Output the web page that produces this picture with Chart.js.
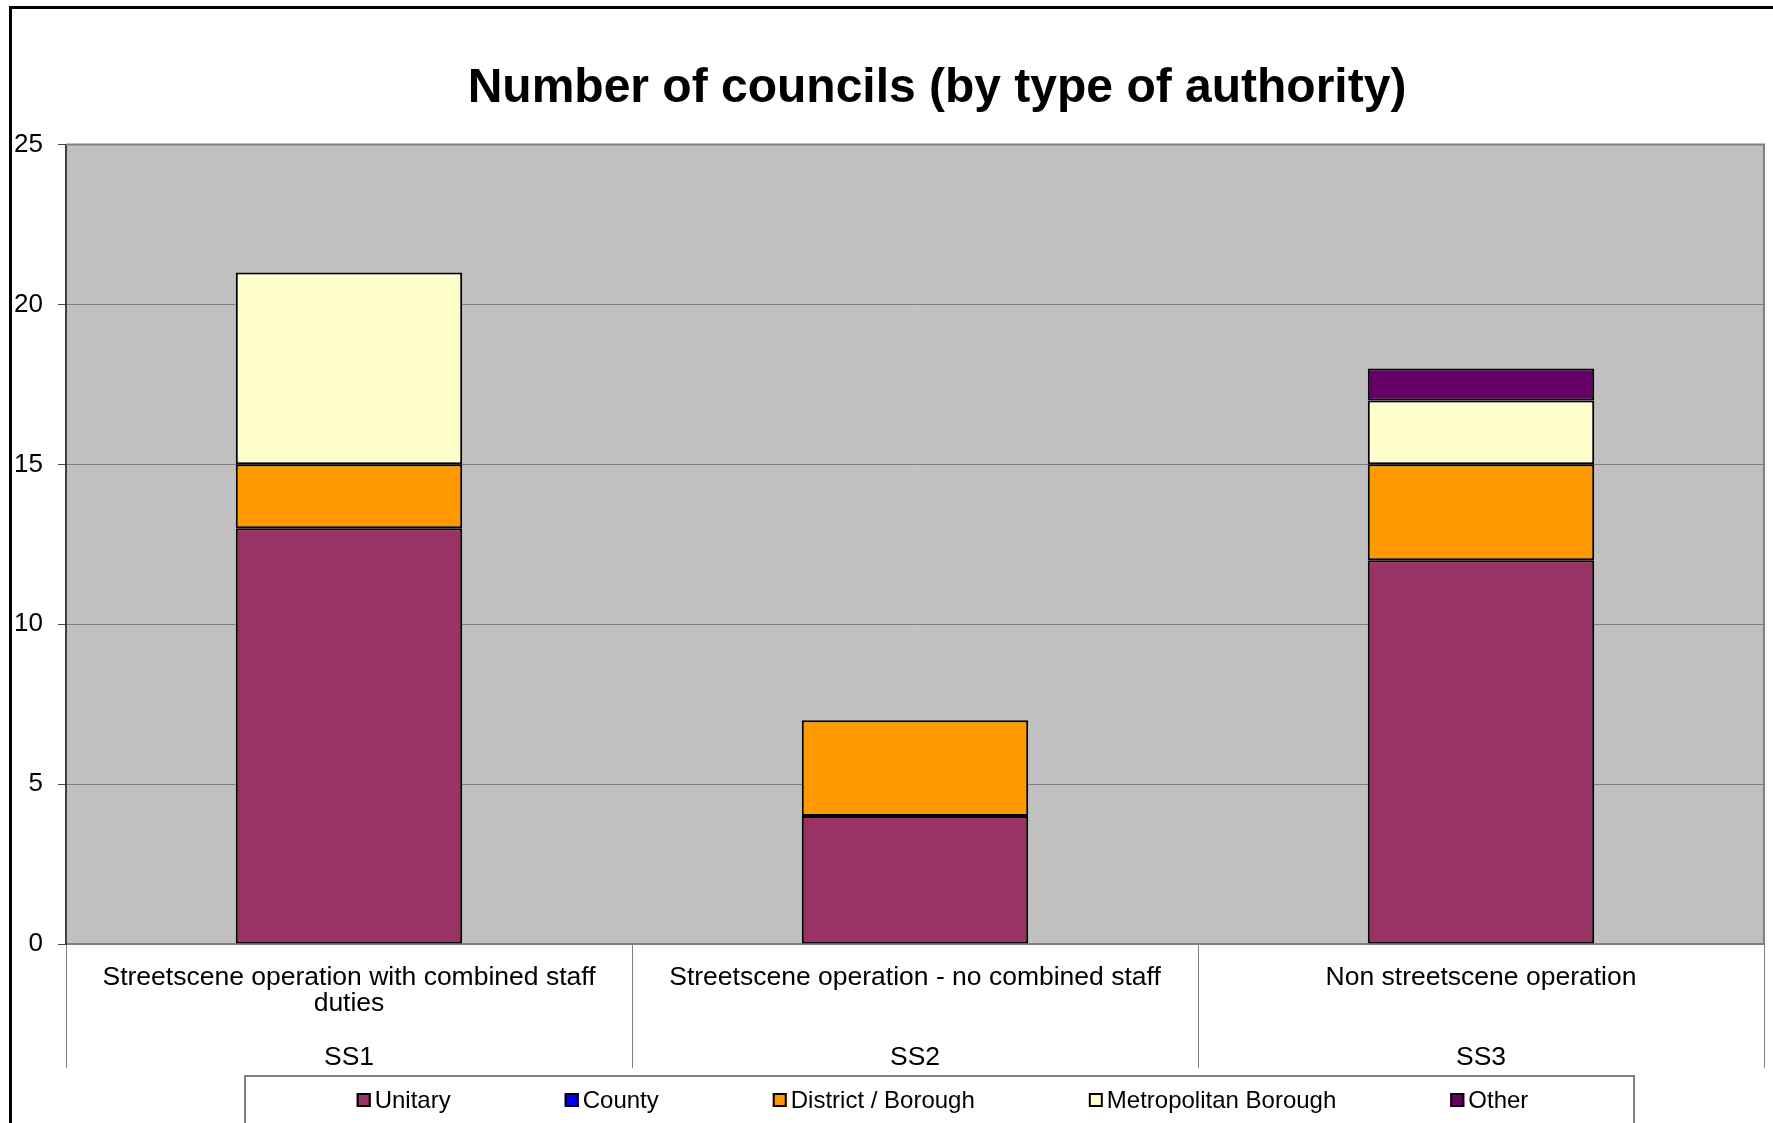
<!DOCTYPE html>
<html>
<head>
<meta charset="utf-8">
<script src="https://cdn.jsdelivr.net/npm/chart.js@4/dist/chart.umd.min.js"></script>
<style>
  html, body { margin: 0; padding: 0; background: #fff; }
  canvas { display: block; }
</style>
</head>
<body>
<canvas id="councils" width="1773" height="1123"></canvas>
<script>
// categories (inner label lines + outer code)
var categoryText = [
  ['Streetscene operation with combined staff', 'duties'],
  ['Streetscene operation - no combined staff'],
  ['Non streetscene operation']
];
var categoryCodes = ['SS1', 'SS2', 'SS3'];

// series values, one per category
var unitary = [13, 4, 12];
var county = [0, 0, 0];
var districtBorough = [2, 3, 3];
var metropolitanBorough = [6, 0, 2];
var other = [0, 0, 1];

// y axis
var yMin = 0;
var yMax = 25;
var yStep = 5;

var chartTitle = 'Number of councils (by type of authority)';
var FONT = '"Liberation Sans", Arial, sans-serif';

// build multi line labels: text lines, blank filler, then the code
var labels = categoryText.map(function(lines, i) {
  var out = lines.slice();
  while (out.length < 3) out.push('');
  out.push(categoryCodes[i]);
  return out;
});

function series(name, data, color) {
  return {
    label: name,
    data: data,
    backgroundColor: color,
    borderColor: '#000000',
    borderWidth: 2,
    borderSkipped: false,
    barPercentage: 0.4,
    categoryPercentage: 1.0
  };
}

// white page, black frame and grey plot area
var framePlugin = {
  id: 'frame',
  afterLayout: function(chart) {
    // title is centred over the plot area in the original, not the page
    chart.titleBlock.left += 110;
  },
  beforeDraw: function(chart) {
    var ctx = chart.ctx, a = chart.chartArea;
    ctx.save();
    ctx.fillStyle = '#ffffff';
    ctx.fillRect(0, 0, chart.width, chart.height);
    ctx.fillStyle = '#000000';
    ctx.fillRect(9, 6, 3, chart.height);
    ctx.fillRect(9, 6, chart.width, 3);
    ctx.fillStyle = '#c0c0c0';
    ctx.fillRect(a.left, a.top, a.right - a.left, a.bottom - a.top);
    ctx.restore();
  },
  afterDatasetsDraw: function(chart) {
    var ctx = chart.ctx, a = chart.chartArea;
    ctx.save();
    ctx.strokeStyle = '#808080';
    ctx.lineWidth = 2;
    ctx.beginPath();
    ctx.moveTo(a.left, a.top);
    ctx.lineTo(a.right, a.top);
    ctx.lineTo(a.right, a.bottom);
    ctx.stroke();
    ctx.restore();
  }
};

// legend in a box below the axis, built from the datasets
var boxLegendPlugin = {
  id: 'boxLegend',
  afterDraw: function(chart) {
    var ctx = chart.ctx;
    var box = { left: 245, right: 1634, top: 1076, bottom: 1140 };
    var cy = 1100, sq = 14, gapText = 4, gapItem = 114;
    ctx.save();
    ctx.fillStyle = '#ffffff';
    ctx.fillRect(box.left, box.top, box.right - box.left, box.bottom - box.top);
    ctx.strokeStyle = '#808080';
    ctx.lineWidth = 2;
    ctx.strokeRect(box.left, box.top, box.right - box.left, box.bottom - box.top);
    ctx.font = '24px ' + FONT;
    ctx.textBaseline = 'middle';
    var ds = chart.data.datasets;
    var widths = ds.map(function(d) { return sq + gapText + ctx.measureText(d.label).width; });
    var total = widths.reduce(function(s, w) { return s + w; }, 0) + gapItem * (ds.length - 1);
    var x = (box.left + box.right) / 2 - total / 2 + 3;
    ds.forEach(function(d, i) {
      ctx.fillStyle = d.backgroundColor;
      ctx.fillRect(x, cy - sq / 2, sq, sq);
      ctx.strokeStyle = '#000000';
      ctx.lineWidth = 2;
      ctx.strokeRect(x + 1, cy - sq / 2 + 1, sq - 2, sq - 2);
      ctx.fillStyle = '#000000';
      ctx.fillText(d.label, x + sq + gapText, cy + 1);
      x += widths[i] + gapItem;
    });
    ctx.restore();
  }
};

var chart = new Chart(document.getElementById('councils'), {
  type: 'bar',
  data: {
    labels: labels,
    datasets: [
      series('Unitary', unitary, '#993366'),
      series('County', county, '#0000ff'),
      series('District / Borough', districtBorough, '#ff9900'),
      series('Metropolitan Borough', metropolitanBorough, '#ffffcc'),
      series('Other', other, '#660066')
    ]
  },
  options: {
    responsive: false,
    animation: false,
    layout: { padding: { left: 0, right: 9, top: 0, bottom: 0 } },
    plugins: {
      legend: { display: false },
      tooltip: { enabled: false },
      title: {
        display: true,
        text: chartTitle,
        color: '#000000',
        font: { family: FONT, size: 48, weight: 'bold', lineHeight: 1.2 },
        padding: { top: 60, bottom: 27 }
      }
    },
    scales: {
      x: {
        stacked: true,
        offset: true,
        grid: {
          offset: true,
          drawOnChartArea: false,
          drawTicks: true,
          tickLength: 124,
          tickColor: '#808080',
          tickWidth: 1
        },
        border: { display: true, color: '#808080', width: 2 },
        ticks: {
          autoSkip: false,
          maxRotation: 0,
          minRotation: 0,
          padding: -104,
          color: '#000000',
          font: { family: FONT, size: 26.5, lineHeight: 1.01 }
        },
        afterFit: function(scale) { scale.height = 179; }
      },
      y: {
        stacked: true,
        min: yMin,
        max: yMax,
        grid: {
          color: '#808080',
          lineWidth: 1,
          drawTicks: true,
          tickLength: 8,
          tickColor: '#404040'
        },
        border: { display: true, color: '#404040', width: 2 },
        ticks: {
          stepSize: yStep,
          padding: 15,
          color: '#000000',
          font: { family: FONT, size: 26 }
        },
        afterFit: function(scale) { scale.width = 66; }
      }
    }
  },
  plugins: [framePlugin, boxLegendPlugin]
});
</script>
</body>
</html>
